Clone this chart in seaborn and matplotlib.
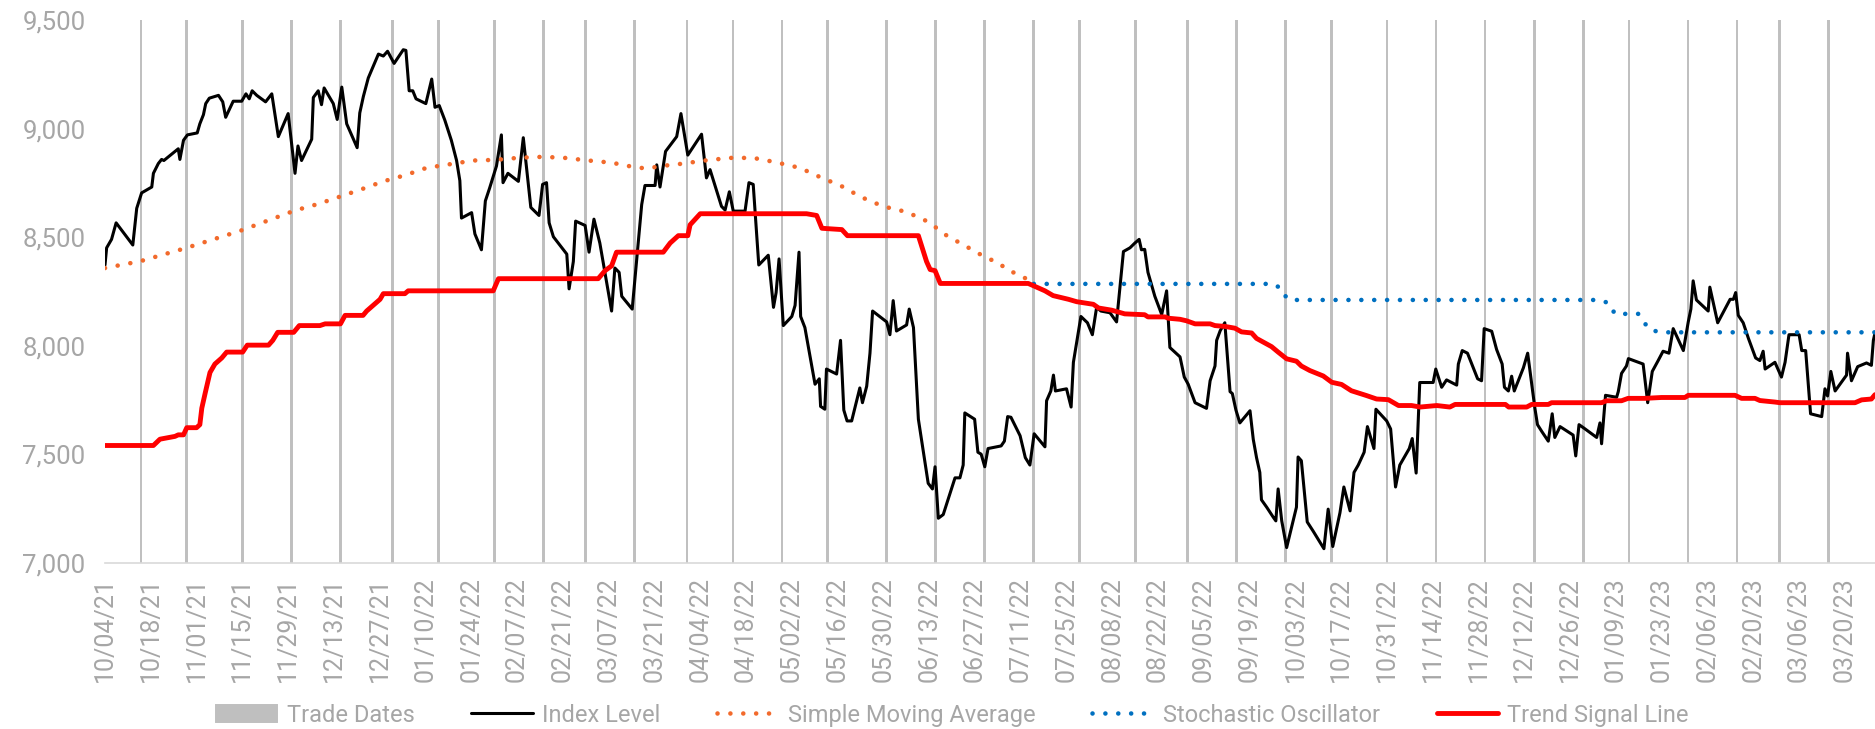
import matplotlib
matplotlib.use("Agg")
import matplotlib.pyplot as plt
import matplotlib.ticker as ticker
import matplotlib.dates as mdates
import seaborn as sns
import numpy as np
import pandas as pd

# Fecha de inicio del eje (los "days" son días de calendario desde aquí)
start_date = "2021-10-04"
end_day = 541.2

# Fechas de operación (barras grises)
trade_dates = ["2021-10-15", "2021-10-29", "2021-11-15", "2021-11-30", "2021-12-15",
               "2021-12-31", "2022-01-14", "2022-01-31", "2022-02-15", "2022-02-28",
               "2022-03-15", "2022-03-31", "2022-04-14", "2022-04-29", "2022-05-13",
               "2022-05-31", "2022-06-15", "2022-06-30", "2022-07-15", "2022-07-29",
               "2022-08-15", "2022-08-31", "2022-09-15", "2022-09-30", "2022-10-14",
               "2022-10-31", "2022-11-15", "2022-11-30", "2022-12-15", "2022-12-30",
               "2023-01-13", "2023-01-31", "2023-02-15", "2023-02-28", "2023-03-15"]
trade_level = 9500

# Nivel del índice
index_day = [0, 0.5, 2.0, 3.4, 8.5, 9.7, 11.2, 14.3, 14.8, 16.3, 17.3, 18.0, 22.4, 22.9, 24.0,
             25.2, 28.2, 29.0, 30.1, 30.8, 31.9, 34.7, 36.0, 36.9, 39.2, 41.8, 43.1, 44.1, 45.0,
             46.4, 49.1, 51.0, 53.0, 56.0, 58.1, 59.0, 60.1, 63.2, 63.7, 65.2, 66.2, 67.0,
             69.8, 71.0, 72.4, 73.9, 77.1, 77.9, 79.0, 80.5, 83.6, 85.1, 86.4, 88.4, 91.2, 92.0,
             93.0, 94.1, 95.1, 98.1, 99.9, 100.9, 102.2, 103.9, 105.9, 107.5, 108.5, 109.0,
             112.1, 113.1, 115.1, 116.3, 117.6, 119.7, 121.2, 121.7, 123.2, 126.4, 127.9,
             130.2, 132.7, 133.8, 135.0, 135.8, 137.1, 141.2, 141.9, 143.2, 143.9, 146.8,
             148.0, 149.5, 151.3, 154.9, 155.9, 157.2, 158.0, 161.2, 164.1, 165.1, 168.2,
             168.7, 169.7, 171.4, 174.8, 176.1, 178.2, 182.4, 183.9, 185.0, 188.5, 189.6,
             190.9, 192.1, 195.7, 196.9, 198.2, 199.9, 202.8, 204.4, 205.2, 206.1, 207.4,
             210.0, 211.0, 212.2, 212.7, 214.0, 217.1, 218.4, 218.8, 220.1, 220.6, 223.7,
             224.9, 225.9, 226.9, 228.3, 230.8, 231.6, 232.9, 233.9, 234.7, 239.0, 240.0,
             241.0, 242.0, 245.1, 245.9, 247.2, 248.7, 251.7, 253.0, 253.8, 254.8, 256.3,
             259.9, 261.4, 262.4, 262.9, 265.9, 266.9, 267.9, 269.0, 270.0, 274.0, 275.0,
             276.0, 277.0, 279.8, 281.4, 282.8, 284.1, 287.4, 287.9, 289.2, 290.0, 290.6,
             294.0, 295.4, 296.1, 297.1, 298.4, 300.4, 301.9, 303.2, 304.5, 307.3, 309.3,
             310.4, 311.4, 313.4, 314.9, 316.2, 316.9, 317.9, 318.9, 321.0, 323.1, 324.6,
             325.6, 328.7, 330.0, 331.2, 333.3, 336.8, 337.9, 339.4, 339.9, 341.0, 342.4,
             344.0, 344.7, 345.8, 347.0, 350.1, 351.1, 352.1, 353.1, 353.6, 355.2, 357.2,
             358.0, 358.7, 359.8, 361.3, 364.3, 364.8, 365.8, 367.6, 369.4, 372.7, 374.0,
             375.4, 377.6, 378.8, 380.7, 381.9, 383.2, 385.0, 386.0, 388.0, 388.6, 391.9,
             393.1, 394.6, 395.9, 398.8, 399.7, 400.9, 402.0, 406.1, 406.9, 408.7, 410.2,
             413.3, 413.8, 415.0, 416.6, 419.7, 420.9, 421.7, 424.0, 425.5, 427.2, 427.9,
             429.1, 430.1, 430.9, 433.7, 435.0, 437.2, 438.0, 439.3, 441.3, 442.5, 443.3,
             444.9, 448.9, 449.7, 450.7, 452.3, 456.1, 457.1, 457.6, 458.8, 462.2, 462.7,
             463.7, 465.2, 465.8, 470.3, 471.7, 473.1, 474.9, 476.4, 478.2, 479.5, 482.6,
             484.1, 484.9, 485.6, 486.6, 490.2, 490.7, 493.1, 496.9, 497.9, 498.6, 499.4,
             500.9, 502.5, 504.7, 506.0, 507.0, 507.6, 510.6, 512.6, 513.7, 514.9, 518.0,
             518.8, 520.0, 521.5, 524.9, 525.9, 526.7, 527.7, 529.0, 532.5, 532.8, 534.0,
             535.9, 538.6, 540.1, 540.7, 541.2]
index_level = [8372, 8451, 8490, 8566, 8464, 8633, 8704, 8731, 8794, 8839, 8858, 8853, 8907, 8858, 8946,
               8971, 8980, 9022, 9064, 9115, 9140, 9153, 9123, 9052, 9126, 9126, 9160, 9137, 9174,
               9153, 9123, 9160, 8963, 9069, 8794, 8920, 8853, 8951, 9143, 9174, 9110, 9187,
               9115, 9042, 9191, 9022, 8912, 9072, 9148, 9233, 9343, 9334, 9356, 9300, 9363, 9360,
               9174, 9174, 9137, 9115, 9228, 9098, 9106, 9039, 8946, 8853, 8760, 8588,
               8613, 8515, 8442, 8667, 8726, 8828, 8971, 8751, 8794, 8757, 8958,
               8637, 8600, 8743, 8751, 8566, 8502, 8422, 8262, 8388, 8574, 8554,
               8431, 8583, 8473, 8160, 8358, 8338, 8228, 8169, 8650, 8738, 8738,
               8833, 8731, 8895, 8963, 9069, 8878, 8974, 8773, 8811, 8642, 8625,
               8709, 8620, 8620, 8751, 8743, 8372, 8417, 8177, 8245, 8400, 8093,
               8135, 8186, 8431, 8135, 8084, 7823, 7848, 7721, 7708, 7893, 7870,
               8025, 7704, 7654, 7654, 7806, 7738, 7814, 7966, 8160, 8110, 8051,
               8208, 8068, 8096, 8169, 8084, 7662, 7367, 7341, 7443, 7206, 7223,
               7392, 7392, 7451, 7691, 7662, 7510, 7501, 7443, 7527, 7539, 7561,
               7674, 7671, 7586, 7485, 7451, 7595, 7535, 7747, 7792, 7865, 7792,
               7802, 7718, 7924, 8017, 8135, 8106, 8051, 8177, 8160, 8152, 8110,
               8279, 8434, 8451, 8473, 8490, 8442, 8444, 8338, 8228, 8144, 8253,
               7992, 7949, 7856, 7823, 7738, 7712, 7839, 7907, 8025, 8070, 8106,
               7789, 7780, 7704, 7645, 7701, 7569, 7485, 7417, 7291, 7257, 7211,
               7194, 7341, 7194, 7071, 7257, 7488, 7471, 7189, 7147, 7066, 7248,
               7076, 7231, 7350, 7240, 7417, 7451, 7510, 7628, 7527, 7708, 7654,
               7617, 7350, 7451, 7527, 7573, 7414, 7831, 7831, 7893, 7809, 7843,
               7819, 7916, 7978, 7966, 7848, 7839, 8079, 8067, 7983, 7916, 7809,
               7792, 7860, 7792, 7899, 7966, 7713, 7637, 7606, 7561, 7687, 7578,
               7628, 7589, 7493, 7637, 7620, 7578, 7645, 7549, 7772, 7763, 7789,
               7873, 7907, 7941, 7916, 7738, 7882, 7932, 7975, 7966, 8079, 7978,
               8110, 8169, 8299, 8211, 8160, 8270, 8106, 8214, 8214, 8245, 8140,
               8106, 8034, 7944, 7932, 7975, 7893, 7924, 7856, 7924, 8051, 8051,
               7978, 7978, 7687, 7674, 7802, 7769, 7882, 7792, 7865, 7966, 7839,
               7904, 7921, 7910, 8025, 8059]

# Media móvil simple
sma_day = [0, 10.7, 24.3, 41.3, 58.1, 65.2, 71.9, 78.5, 85.1, 91.7, 98.3, 105.5, 112.6, 119.3,
           127.0, 134.0, 140.6, 147.8, 154.9, 162.0, 165.9, 169.7, 176.3, 183.4, 191.1, 198.2,
           204.8, 212.5, 218.6, 225.2, 231.3, 237.9, 245.1, 251.7, 257.4, 263.5, 269.6, 273.2,
           275.7, 279.1, 282.3, 284.0]
sma_level = [8358, 8389, 8448, 8529, 8623, 8653, 8687, 8721, 8757, 8785, 8819, 8836, 8853, 8856,
             8866, 8870, 8865, 8853, 8843, 8822, 8816, 8827, 8838, 8853, 8865, 8865,
             8846, 8819, 8777, 8735, 8684, 8642, 8616, 8571, 8507, 8456, 8404, 8383,
             8351, 8329, 8304, 8287]

# Oscilador estocástico
stoch_day = [284.0, 357.2, 359.8, 361.3, 362.5, 456.6, 459.6, 461.7, 468.8, 470.4, 472.1, 475.5, 541.2]
stoch_level = [8285, 8285, 8262, 8219, 8211, 8211, 8198, 8147, 8147, 8113, 8076, 8062, 8062]

# Línea de señal de tendencia
trend_day = [0, 14.8, 16.8, 21.4, 22.4, 24.0, 25.0, 28.0, 29.0, 29.6, 30.6, 32.1, 33.6, 35.7, 37.2,
             42.1, 43.5, 50.0, 51.3, 52.8, 57.7, 59.4, 65.7, 67.3, 72.0, 73.4, 78.9, 80.0, 84.1,
             85.1, 91.7, 92.7, 118.7, 120.3, 150.8, 152.9, 154.9, 156.4, 170.7, 172.8, 175.3,
             178.2, 178.9, 182.0, 214.5, 217.6, 219.2, 225.3, 227.0, 248.7, 251.2, 252.3, 253.8,
             255.4, 282.3, 287.4, 289.9, 294.6, 297.1, 302.2, 303.8, 307.8, 311.8, 317.9, 318.9,
             324.1, 325.1, 328.7, 330.7, 333.3, 337.9, 339.4, 342.5, 345.5, 347.5, 350.6, 352.1,
             356.7, 358.7, 361.3, 364.3, 365.8, 368.4, 372.5, 375.1, 378.1, 381.1, 385.7, 388.8,
             392.4, 395.5, 399.5, 402.1, 407.2, 411.2, 412.8, 428.2, 429.2, 434.7, 436.2, 441.3,
             442.3, 457.6, 459.1, 463.7, 465.7, 470.8, 475.9, 483.1, 484.1, 498.4, 500.4, 504.5,
             506.0, 510.6, 512.1, 535.1, 537.1, 540.1, 541.2]
trend_level = [7541, 7541, 7570, 7583, 7590, 7590, 7623, 7623, 7637, 7713, 7780, 7877, 7916, 7944, 7971,
               7971, 8003, 8003, 8025, 8062, 8062, 8093, 8093, 8101, 8101, 8140, 8140, 8160, 8214,
               8240, 8240, 8253, 8253, 8309, 8309, 8346, 8368, 8431, 8431, 8473, 8507,
               8507, 8557, 8608, 8608, 8600, 8541, 8535, 8507, 8507, 8388, 8351, 8346,
               8287, 8287, 8253, 8231, 8214, 8203, 8191, 8174, 8164, 8147, 8143, 8133,
               8133, 8127, 8122, 8115, 8101, 8101, 8093, 8089, 8081, 8064, 8059, 8034,
               7996, 7971, 7940, 7929, 7907, 7886, 7861, 7832, 7822, 7793, 7771, 7755,
               7752, 7725, 7725, 7718, 7725, 7718, 7730, 7730, 7718, 7718, 7730, 7730,
               7738, 7738, 7747, 7747, 7758, 7758, 7762, 7762, 7772, 7772, 7758, 7758,
               7748, 7741, 7738, 7738, 7751, 7755, 7775]

GRAY_TEXT = "#A6A6A6"
AXIS_GRAY = "#D9D9D9"
BAR_GRAY = "#BFBFBF"


def to_dates(days):
    return pd.Timestamp(start_date) + pd.to_timedelta(np.array(days), unit="D")


sns.set_style("white")
plt.rcParams["font.family"] = ["Roboto", "DejaVu Sans"]

fig = plt.figure(figsize=(18.75, 7.29), dpi=100)
ax = fig.add_axes([0.056, 0.2277, 0.944, 0.7449])

# Barras de fechas de operación (finas, con borde para que todas se vean igual)
ax.bar(pd.to_datetime(trade_dates), trade_level, width=0.2, color=BAR_GRAY,
       edgecolor=BAR_GRAY, linewidth=1.4, label="Trade Dates", zorder=1)

# Series
dots = (0, (0.01, 2.8))
sns.lineplot(x=to_dates(index_day), y=index_level, ax=ax, color="black", lw=2.2,
             estimator=None, sort=False, label="Index Level", zorder=2)
sns.lineplot(x=to_dates(sma_day), y=sma_level, ax=ax, color="#F26A2C", lw=3.3,
             linestyle=dots, dash_capstyle="round", estimator=None, sort=False,
             label="Simple Moving Average", zorder=3)
sns.lineplot(x=to_dates(stoch_day), y=stoch_level, ax=ax, color="#0070C0", lw=3.3,
             linestyle=dots, dash_capstyle="round", estimator=None, sort=False,
             label="Stochastic Oscillator", zorder=4)
sns.lineplot(x=to_dates(trend_day), y=trend_level, ax=ax, color="#FF0000", lw=3.5,
             estimator=None, sort=False, label="Trend Signal Line", zorder=5)

# Ejes
ax.set_ylim(7000, 9500)
ax.set_xlim(to_dates([0])[0], to_dates([end_day])[0])
ax.set_yticks(np.arange(7000, 9501, 500))
ax.yaxis.set_major_formatter(ticker.FuncFormatter(lambda v, p: f"{v:,.0f}"))
ax.set_xticks(pd.date_range(start_date, "2023-03-20", freq="14D"))
ax.xaxis.set_major_formatter(mdates.DateFormatter("%m/%d/%y"))
ax.tick_params(axis="x", rotation=90, labelsize=18, labelcolor=GRAY_TEXT, color=AXIS_GRAY,
               length=5, width=1.2, pad=5, direction="out")
ax.tick_params(axis="y", labelsize=18.5, labelcolor=GRAY_TEXT, length=0, pad=14)
ax.set_xlabel("")
ax.set_ylabel("")
for side in ["top", "right", "left"]:
    ax.spines[side].set_visible(False)
ax.spines["bottom"].set_color(AXIS_GRAY)
ax.spines["bottom"].set_linewidth(1.2)
ax.grid(False)

# Leyenda abajo
ax.get_legend().remove()
handles, labels = ax.get_legend_handles_labels()
order = [labels.index(n) for n in ["Trade Dates", "Index Level", "Simple Moving Average",
                                   "Stochastic Oscillator", "Trend Signal Line"]]
fig.legend([handles[i] for i in order], [labels[i] for i in order], loc="center",
           bbox_to_anchor=(0.508, 0.019), ncol=5, frameon=False, fontsize=17,
           handlelength=2.6, handletextpad=0.4, columnspacing=2.4, labelcolor=GRAY_TEXT)

fig.savefig("out.png", dpi=100)
